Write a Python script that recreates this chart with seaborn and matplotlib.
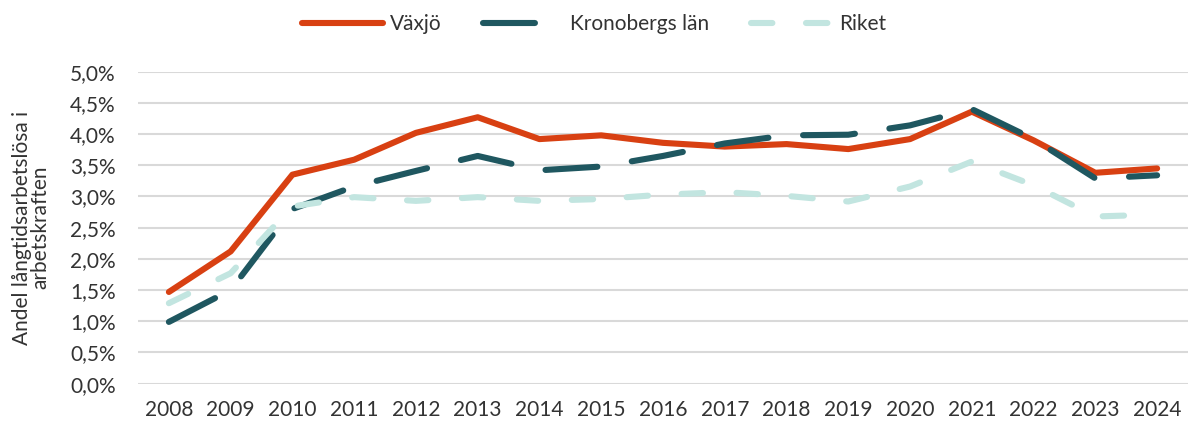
import numpy as np
import pandas as pd
import matplotlib
matplotlib.use("Agg")
import matplotlib.pyplot as plt
import seaborn as sns

# ── Data ─────────────────────────────────────────────────────
ar = list(range(2008, 2025))
vaxjo = [1.47, 2.12, 3.35, 3.59, 4.02, 4.27, 3.92, 3.98, 3.86,
         3.80, 3.84, 3.76, 3.92, 4.36, 3.90, 3.38, 3.45]
kronoberg = [0.99, 1.50, 2.80, 3.16, 3.41, 3.65, 3.42, 3.48, 3.65,
             3.85, 3.98, 3.99, 4.14, 4.40, 3.92, 3.29, 3.34]
riket = [1.29, 1.77, 2.84, 2.99, 2.93, 2.99, 2.93, 2.96, 3.03,
         3.07, 3.01, 2.92, 3.16, 3.56, 3.18, 2.68, 2.71]

serier = ["Växjö", "Kronobergs län", "Riket"]
farger = {"Växjö": "#D84012", "Kronobergs län": "#1F5760", "Riket": "#C2E5E0"}
streck = {"Växjö": "", "Kronobergs län": (8.5, 5.7), "Riket": (3.5, 5.5)}

df = pd.DataFrame({
    "År": ar * 3,
    "Andel": vaxjo + kronoberg + riket,
    "Område": [s for s in serier for _ in ar],
})

# ── Stil ─────────────────────────────────────────────────────
sns.set_theme(style="white")
plt.rcParams["font.family"] = ["Lato", "DejaVu Sans"]
plt.rcParams["lines.solid_capstyle"] = "round"
plt.rcParams["lines.dash_capstyle"] = "round"
TEXT = "#333333"

fig = plt.figure(figsize=(11.88, 4.23), dpi=100)
ax = fig.add_axes([138 / 1188, 1 - 383.7 / 423, 1 - 138 / 1188, (383.7 - 71.7) / 423])

sns.lineplot(
    data=df, x="År", y="Andel", hue="Område", style="Område",
    hue_order=serier, style_order=serier,
    palette=farger, dashes=streck, linewidth=4.4, ax=ax, legend=True,
)

# ── Axlar ────────────────────────────────────────────────────
ax.set_xlim(2007.5, 2024.5)
ax.set_ylim(0, 5)
ax.set_xticks(ar)
ax.set_xticklabels([str(a) for a in ar])
ax.set_yticks(np.arange(0, 5.01, 0.5))
ax.set_yticklabels([f"{v:.1f}%".replace(".", ",") for v in np.arange(0, 5.01, 0.5)])
ax.yaxis.grid(True, color="#d9d9d9", linewidth=1.5)
ax.xaxis.grid(False)
ax.set_axisbelow(True)
for s in ax.spines.values():
    s.set_visible(False)
ax.tick_params(axis="y", length=0, pad=16, labelsize=15, labelcolor=TEXT)
ax.tick_params(axis="x", length=0, pad=12, labelsize=15, labelcolor=TEXT)

ax.set_xlabel("")
ax.set_ylabel("Andel långtidsarbetslösa i\narbetskraften", fontsize=15,
              color=TEXT, linespacing=0.95)
ax.yaxis.set_label_coords(-0.083, 0.5)

# ── Legend ───────────────────────────────────────────────────
handles, labels = ax.get_legend_handles_labels()
ax.legend(handles, labels, loc="center", bbox_to_anchor=(0.5, 1 - 24 / 423),
          bbox_transform=fig.transFigure, ncol=3, frameon=False,
          handlelength=3.9, handletextpad=0.3, columnspacing=2.0,
          labelcolor=TEXT, prop={"size": 15})

fig.savefig("out.png", dpi=100)
